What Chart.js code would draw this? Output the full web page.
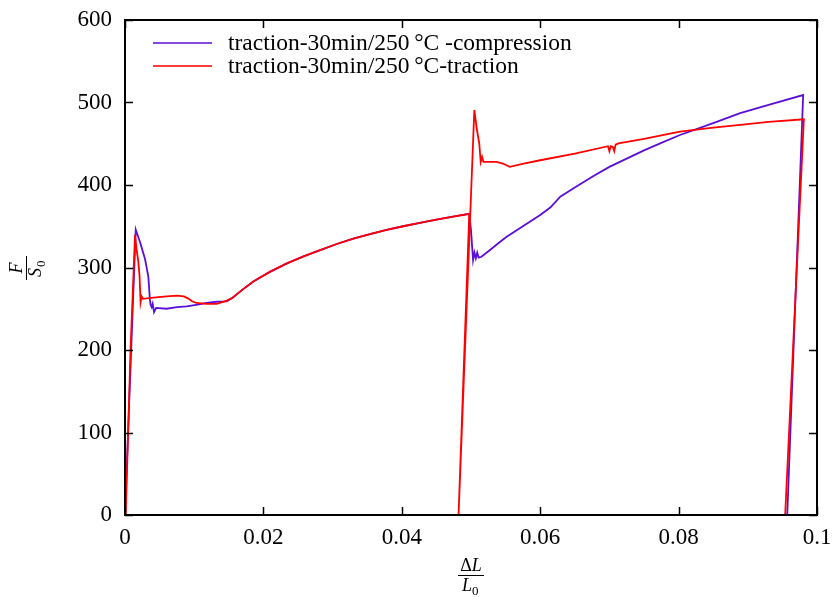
<!DOCTYPE html>
<html>
<head>
<meta charset="utf-8">
<script src="https://cdn.jsdelivr.net/npm/chart.js@4.4.0/dist/chart.umd.min.js"></script>
<style>
  html, body { margin: 0; padding: 0; background: #fff; }
  #wrap { width: 832px; height: 597px; position: relative; }
</style>
</head>
<body>
<div id="wrap"><canvas id="myChart"></canvas></div>
<script>
// compression curve (blue)
const compX = [0, 0.0008, 0.00155, 0.0022, 0.0029, 0.00337, 0.0036, 0.0037, 0.00386, 0.0040, 0.0042, 0.0045,
               0.006, 0.0075, 0.0089, 0.0105, 0.0118, 0.01325, 0.0147, 0.0155, 0.0168, 0.01854, 0.021, 0.0234,
               0.0258, 0.0282, 0.0306, 0.033, 0.0354, 0.0378, 0.0402, 0.0426, 0.045, 0.0474, 0.04975,
               0.0500, 0.0503, 0.0505, 0.0507, 0.0509, 0.0511, 0.0515, 0.0527, 0.0539, 0.0551, 0.0575,
               0.06, 0.0615, 0.0629, 0.065, 0.0677, 0.07, 0.0725, 0.075, 0.0775, 0.0802, 0.085, 0.0889,
               0.093, 0.098, 0.0957]
const compY = [0, 180, 346, 330, 310, 289, 261, 255, 252, 256, 246, 251,
               250, 252, 253, 255, 257, 258.5, 259, 263, 272, 283, 295, 305,
               313.5, 321, 328.5, 335, 340.5, 345.5, 350, 354, 358, 361.6, 365,
               345, 309, 318, 311, 318, 312, 313, 321, 329, 337, 350,
               363.6, 373, 385.8, 397, 411, 422, 432, 442, 451, 460.6, 475, 487,
               497, 509, 0]

// traction curve (red)
const tracX = [0.0001, 0.0008, 0.00145, 0.0017, 0.0019, 0.0021, 0.00225, 0.0024, 0.0026, 0.0041, 0.006, 0.0075,
               0.0085, 0.0091, 0.0097, 0.0103, 0.0118, 0.01325, 0.0147, 0.0155, 0.0168, 0.01854, 0.021, 0.0234,
               0.0258, 0.0282, 0.0306, 0.033, 0.0354, 0.0378, 0.0402, 0.0426, 0.045, 0.0474, 0.04975,
               0.0482, 0.05048, 0.0508, 0.0512, 0.0514, 0.0516, 0.0518, 0.0537, 0.0546, 0.0556, 0.0576,
               0.06, 0.065, 0.0698, 0.0700, 0.0702, 0.0705, 0.0707, 0.0709, 0.0713, 0.075, 0.0802, 0.085,
               0.0889, 0.093, 0.0981, 0.0954]
const tracY = [0, 200, 340, 320, 309, 290, 258, 265, 262, 263.4, 265, 266,
               265, 262.6, 259, 257, 256, 255.8, 259.8, 263, 272, 283, 295, 305,
               313.5, 321, 328.5, 335, 340.5, 345.5, 350, 354, 358, 361.6, 365,
               0, 491, 470, 450, 428, 434, 428, 428, 426, 422, 426,
               430, 438, 447, 441, 447, 446, 441, 449, 450.5, 456, 464.6, 469.5,
               473, 476.5, 479.6, 0]

const xTicks = [0, 0.02, 0.04, 0.06, 0.08, 0.1]
const yTicks = [0, 100, 200, 300, 400, 500, 600]

const legendLabels = ['traction-30min/250\u2009\u00B0C -compression', 'traction-30min/250\u2009\u00B0C-traction']
const blue = '#5a0ed8'
const red = '#ff0000'

function toPoints(xs, ys){
    return xs.map((x, i) => ({x: x, y: ys[i]}))
}

const tickFont = '23px "Liberation Serif", serif'

// frame, inward ticks, tick labels, legend and axis titles
const framePlugin = {
    id: 'frame',
    afterDraw(chart){
        const ctx = chart.ctx
        const a = chart.chartArea
        const xs = chart.scales.x
        const ys = chart.scales.y
        ctx.save()
        ctx.strokeStyle = '#000'
        ctx.lineWidth = 2
        ctx.strokeRect(a.left, a.top, a.right - a.left, a.bottom - a.top)
        ctx.lineWidth = 1.5
        ctx.beginPath()
        xTicks.forEach(v => {
            const px = Math.round(xs.getPixelForValue(v)) + 0.5
            ctx.moveTo(px, a.bottom); ctx.lineTo(px, a.bottom - 8)
            ctx.moveTo(px, a.top); ctx.lineTo(px, a.top + 8)
        })
        yTicks.forEach(v => {
            const py = Math.round(ys.getPixelForValue(v)) + 0.5
            ctx.moveTo(a.left, py); ctx.lineTo(a.left + 8, py)
            ctx.moveTo(a.right, py); ctx.lineTo(a.right - 8, py)
        })
        ctx.stroke()

        // tick labels
        ctx.fillStyle = '#000'
        ctx.font = tickFont
        ctx.textAlign = 'center'
        ctx.textBaseline = 'middle'
        xTicks.forEach(v => {
            ctx.fillText(String(v), xs.getPixelForValue(v), a.bottom + 23)
        })
        ctx.textAlign = 'right'
        yTicks.forEach(v => {
            ctx.fillText(String(v), a.left - 13, ys.getPixelForValue(v))
        })

        // legend
        const cols = [blue, red]
        ctx.font = '23.5px "Liberation Serif", serif'
        ctx.textBaseline = 'alphabetic'
        ctx.textAlign = 'left'
        legendLabels.forEach((t, i) => {
            const y = 43 + i * 23
            ctx.strokeStyle = cols[i]
            ctx.lineWidth = 1.5
            ctx.beginPath(); ctx.moveTo(153, y); ctx.lineTo(212, y); ctx.stroke()
            ctx.fillStyle = '#000'
            ctx.fillText(t, 228, y + 7)
        })

        // x title: ΔL / L0
        const cx = (a.left + a.right) / 2
        ctx.textAlign = 'left'
        ctx.font = '18px "Liberation Serif", serif'
        let w1 = ctx.measureText('\u0394').width
        ctx.font = 'italic 18px "Liberation Serif", serif'
        let w2 = ctx.measureText('L').width
        let sx = cx - (w1 + w2) / 2
        ctx.font = '18px "Liberation Serif", serif'
        ctx.fillText('\u0394', sx, 571)
        ctx.font = 'italic 18px "Liberation Serif", serif'
        ctx.fillText('L', sx + w1, 571)
        ctx.lineWidth = 1
        ctx.strokeStyle = '#000'
        ctx.beginPath(); ctx.moveTo(cx - 13, 575.5); ctx.lineTo(cx + 13, 575.5); ctx.stroke()
        ctx.fillText('L', cx - 9, 591)
        ctx.font = '13px "Liberation Serif", serif'
        ctx.fillText('0', cx + 1, 595)

        // y title: F / S0 rotated
        ctx.translate(26, 268)
        ctx.rotate(-Math.PI / 2)
        ctx.textAlign = 'center'
        ctx.font = 'italic 18px "Liberation Serif", serif'
        ctx.fillText('F', 0, -4)
        ctx.beginPath(); ctx.moveTo(-12, 0.5); ctx.lineTo(12, 0.5); ctx.stroke()
        ctx.textAlign = 'left'
        ctx.fillText('S', -9, 15)
        ctx.font = '13px "Liberation Serif", serif'
        ctx.fillText('0', 1, 19)
        ctx.restore()
    }
}

const ctx = document.getElementById('myChart').getContext('2d')
const myChart = new Chart(ctx, {
    type: 'scatter',
    data: {
        datasets: [{
            data: toPoints(compX, compY),
            borderColor: blue,
            borderWidth: 1.8,
            showLine: true,
            pointRadius: 0,
            order: 2
        }, {
            data: toPoints(tracX, tracY),
            borderColor: red,
            borderWidth: 1.8,
            showLine: true,
            pointRadius: 0,
            order: 1
        }]
    },
    options: {
        responsive: true,
        maintainAspectRatio: false,
        animation: false,
        layout: { padding: { top: 20, right: 15, left: 0, bottom: 0 } },
        plugins: {
            legend: { display: false },
            tooltip: { enabled: false }
        },
        scales: {
            x: {
                type: 'linear',
                min: 0,
                max: 0.1,
                afterFit: s => { s.height = 82 },
                ticks: { display: false },
                grid: { display: false, drawTicks: false },
                border: { display: false }
            },
            y: {
                min: 0,
                max: 600,
                afterFit: s => { s.width = 125 },
                ticks: { display: false },
                grid: { display: false, drawTicks: false },
                border: { display: false }
            }
        }
    },
    plugins: [framePlugin]
})
</script>
</body>
</html>
